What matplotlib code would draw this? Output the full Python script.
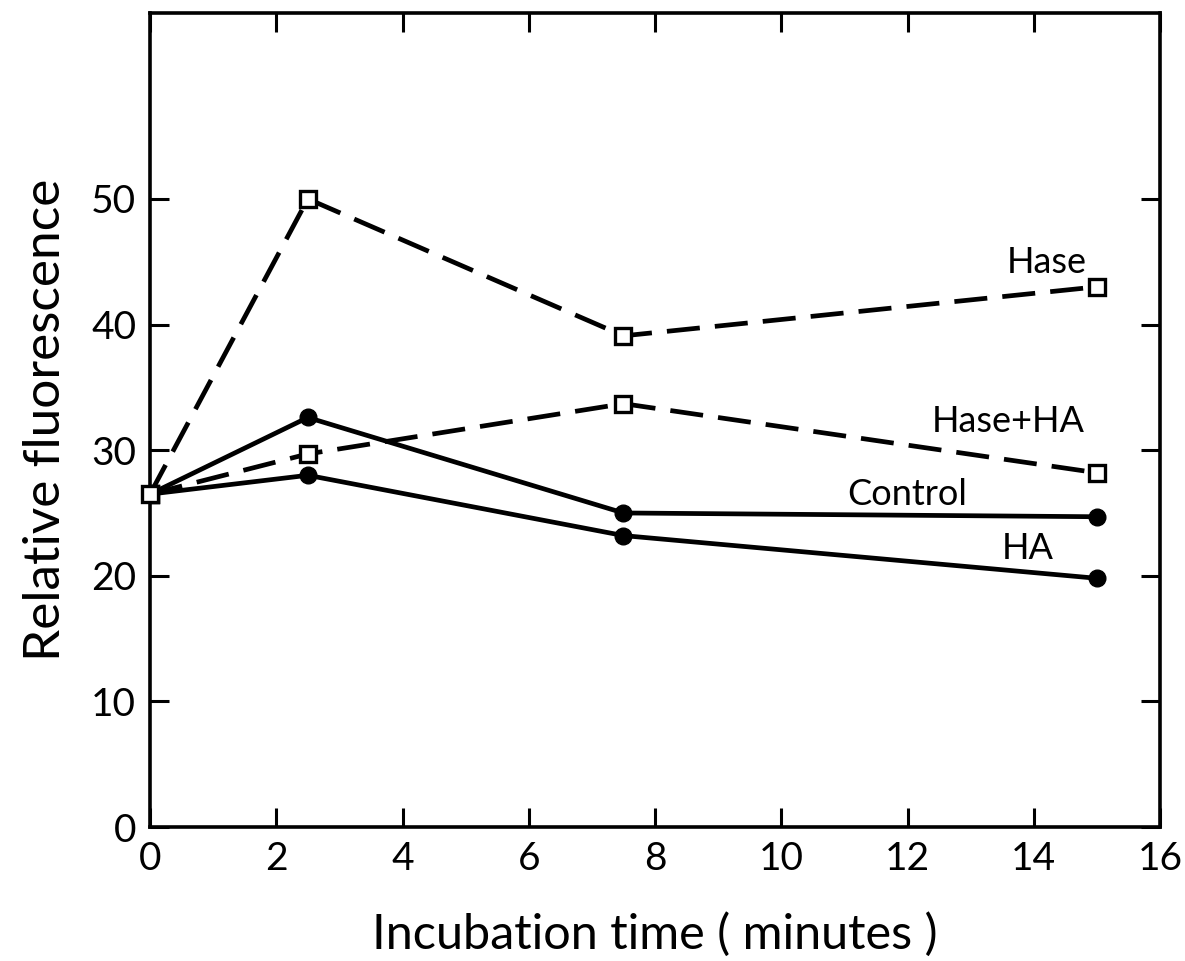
import matplotlib
matplotlib.use("Agg")
import matplotlib.pyplot as plt

plt.rcParams['font.family'] = ['Lato', 'DejaVu Sans']

# 数据
time = [0, 2.5, 7.5, 15]
hase = [26.5, 50.0, 39.1, 43.0]
hase_ha = [26.5, 29.7, 33.7, 28.2]
control = [26.5, 32.6, 25.0, 24.7]
ha = [26.5, 28.0, 23.2, 19.8]

labels = ["Hase", "Hase+HA", "Control", "HA"]
label_pos = [(14.2, 44.9), (13.6, 32.3), (12.0, 26.5), (13.9, 22.2)]

xticks = [0, 2, 4, 6, 8, 10, 12, 14, 16]
yticks = [0, 10, 20, 30, 40, 50]

fig = plt.figure(figsize=(11.85, 9.61), dpi=100)
ax = fig.add_axes([0.1266, 0.1394, 0.8523, 0.8471])

lw = 3.4
dash = (7.0, 3.2)
sq = dict(marker='s', ms=11, mfc='white', mec='black', mew=2.4)
dot = dict(marker='o', ms=12, mfc='black', mec='black')
ax.plot(time, hase, color='black', lw=lw, dashes=dash, zorder=3, **sq)
ax.plot(time, hase_ha, color='black', lw=lw, dashes=dash, zorder=3, **sq)
ax.plot(time, control, color='black', lw=lw, zorder=2, **dot)
ax.plot(time, ha, color='black', lw=lw, zorder=2, **dot)
# 起点为空心方块
ax.plot([time[0]], [hase[0]], ls='none', zorder=4, clip_on=False, **sq)

for txt, (x, y) in zip(labels, label_pos):
    ax.text(x, y, txt, fontsize=26, ha='center', va='center')

ax.set_xlim(0, 16)
ax.set_ylim(0, 64.8)
ax.set_xticks(xticks)
ax.set_yticks(yticks)
ax.tick_params(axis='both', direction='in', length=14, width=2.2,
               labelsize=28, top=True, right=True, pad=10)
for s in ax.spines.values():
    s.set_linewidth(2.6)

ax.set_xlabel("Incubation time ( minutes )", fontsize=35, labelpad=25)
ax.set_ylabel("Relative fluorescence", fontsize=37, labelpad=16)

fig.savefig("out.png", dpi=100)
